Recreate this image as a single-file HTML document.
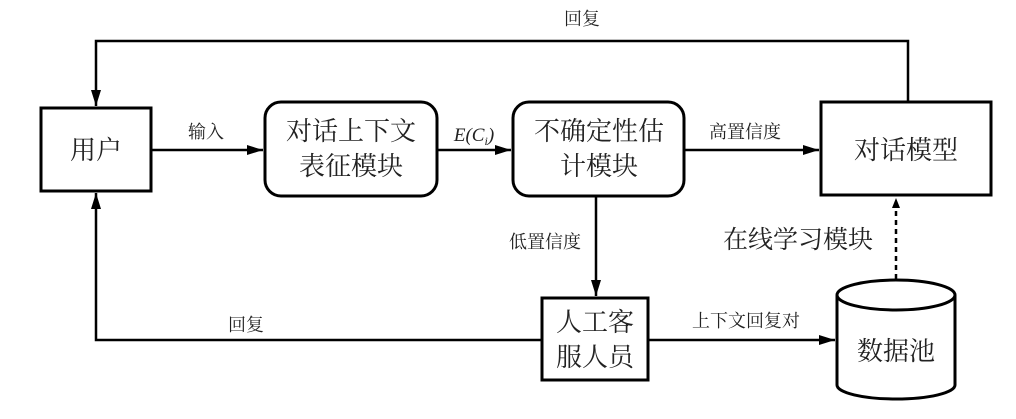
<!DOCTYPE html>
<html><head><meta charset="utf-8"><style>
body{margin:0;background:#fff}
svg text{font-family:"Liberation Serif","Noto Serif CJK SC","Noto Sans CJK SC",serif;fill:#222}
</style></head><body>
<svg width="1016" height="414" viewBox="0 0 1016 414" xmlns="http://www.w3.org/2000/svg">
<defs><marker id="a" markerWidth="10" markerHeight="8" refX="10" refY="4" orient="auto" markerUnits="userSpaceOnUse"><path d="M0,0 L10,4 L0,8 z" fill="#000"/></marker>
<marker id="b" markerWidth="16" markerHeight="10" refX="16" refY="5" orient="auto" markerUnits="userSpaceOnUse"><path d="M0,0 L16,5 L0,10 z" fill="#000"/></marker></defs>
<g fill="none" stroke="#000" stroke-width="3">
<rect x="41" y="108" width="110" height="83"/>
<rect x="265" y="102" width="172" height="94" rx="16"/>
<rect x="513" y="102" width="171" height="94" rx="16"/>
<rect x="821" y="102" width="170" height="93"/>
<rect x="542" y="298" width="106" height="82"/>
<path d="M837,295 L837,385 A59,14 0 0 0 955,385 L955,295"/>
<ellipse cx="896" cy="295" rx="59" ry="15"/>
</g>
<g fill="none" stroke="#000" stroke-width="2.5">
<path d="M908,102 V41 H96 V106" marker-end="url(#b)"/>
<path d="M151,150 H263" marker-end="url(#b)"/>
<path d="M437,150 H511" marker-end="url(#b)"/>
<path d="M684,150 H819" marker-end="url(#b)"/>
<path d="M596,196 V296" marker-end="url(#b)"/>
<path d="M648,340 H835" marker-end="url(#b)"/>
<path d="M542,340 H96 V193" marker-end="url(#b)"/>
<path d="M896,279 V198" stroke-dasharray="5,4" marker-end="url(#a)"/>
</g>
<g font-size="26" text-anchor="middle">
<text x="96" y="159">用户</text>
<text x="351" y="140">对话上下文</text>
<text x="351" y="175">表征模块</text>
<text x="599" y="140">不确定性估</text>
<text x="599" y="175">计模块</text>
<text x="906" y="159">对话模型</text>
<text x="595" y="331">人工客</text>
<text x="595" y="366">服人员</text>
<text x="896" y="360">数据池</text>
<text x="798" y="248" font-size="25">在线学习模块</text>
</g>
<g font-size="18" text-anchor="middle">
<text x="582" y="25">回复</text>
<text x="206" y="138">输入</text>
<text x="745" y="138">高置信度</text>
<text x="545" y="248">低置信度</text>
<text x="246" y="331">回复</text>
<text x="746" y="327">上下文回复对</text>
<text x="474" y="141" font-style="italic" font-size="19">E(C<tspan font-size="12" dy="4">i</tspan><tspan dy="-4">)</tspan></text>
</g>
</svg>
</body></html>
